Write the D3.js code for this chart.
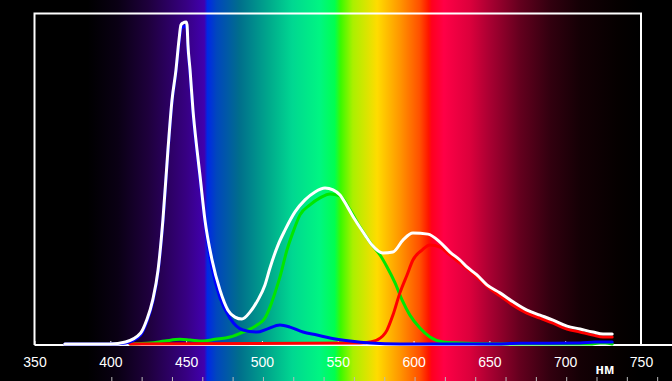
<!DOCTYPE html>
<html><head><meta charset="utf-8">
<script src="https://cdn.jsdelivr.net/npm/d3@7"></script>
<style>html,body{margin:0;padding:0;background:#000;overflow:hidden}</style>
</head><body>
<svg id="c" width="672" height="381"></svg>
<script>
const xTicks = [350, 400, 450, 500, 550, 600, 650, 700, 750];
const unitLabel = "нм";

const whiteWl = [370,400,410,420,424,428,431.5,434.7,438,440.7,443.3,445.3,446.6,447.9,450,450.6,451.2,452.6,454.5,457.2,459.1,462.4,467.1,472.3,477.6,482.2,486.8,492.1,497.4,502,505.3,510.6,515.2,521.8,528.4,535,541.6,546.9,551.5,556.8,561.4,568,572.6,579.8,586.4,593,599.6,609.5,617.4,624,630.6,635.2,641.8,648.4,657,665.6,674.8,683.4,692,701.2,709.8,718.3,725,731];
const whiteVal = [0.3,0.3,0.9,3.6,7.5,13.6,22.6,37.7,58.7,73.8,82.8,91.9,96.4,97.0,97.3,96.4,90.4,82.8,70.8,58.7,51.2,37.7,25.6,16.6,10.5,8.4,7.8,9.9,13.6,18.1,23.2,30.1,34.6,40.1,43.7,46.1,47.3,46.7,45.2,41.3,37.7,33.1,30.1,27.7,28.0,31.6,33.7,33.4,31.0,28.0,25.6,23.5,21.1,18.1,15.7,13.0,10.5,9.0,7.5,5.7,4.8,3.9,3.3,3.3];

const blueWl = [370,400,410,420,424,428,431.5,434.7,438,440.7,443.3,445.3,446.6,447.9,450,450.6,451.2,452.6,454.5,457.2,459.1,462.4,467.1,472.3,478.9,487.5,496.7,503.3,511.9,518.5,527.1,536.3,544.9,558.1,571.3,591,650.4,670.2,709.8,719.7,731];
const blueVal = [0.3,0.3,0.6,3.0,6.9,13.0,22.0,37.0,58.1,73.2,82.2,91.0,95.2,95.8,96.1,95.2,89.5,81.9,69.9,57.8,50.3,36.7,23.2,14.2,8.1,4.5,3.9,4.8,6.0,5.4,3.9,3.0,2.1,1.2,0.6,0.3,0.3,0.5,0.6,0.9,0.9];

const greenWl = [413,426.2,436,446,452.6,461.1,469,478.9,487.5,496.7,502,505.3,508.6,511.9,516.5,520.5,525.1,531.7,538.3,544.9,551.5,558.1,564.7,572.6,577.9,582.5,587.8,592.4,597.6,604.2,610.8,619.4,630.6,657,716.4,723,726.3,731];
const greenVal = [0.3,0.6,1.2,1.7,1.5,1.2,1.7,2.4,3.9,6.0,8.1,11.4,15.7,20.5,28.6,34.0,39.2,42.2,44.3,45.5,44.9,40.7,35.5,30.1,27.1,23.5,18.7,13.6,9.0,5.1,2.4,0.9,0.6,0.3,0.3,0.6,0.6,0.3];

const redWl = [413,564.7,571.3,575.9,582.5,586.4,591,595.7,599.6,605.6,610.8,617.4,624,630.6,637.2,643.8,650.4,657,665.6,674.8,683.4,692,701.2,709.8,718.3,725,731];
const redVal = [0.3,0.6,0.9,1.5,4.5,9.0,15.7,21.1,25.6,28.6,30.1,29.5,27.1,24.7,22.3,19.6,16.9,14.8,12.0,9.6,8.1,6.6,4.8,3.9,3.0,2.4,2.4];

const specWl = [385,405,425,450,462,464,470,485,505,520,538,548,552,560,576,591,604,610,612,620,637,650,670,690,710,735,750];
const specCol = ["#000000","#0a0014","#1e003c","#370082","#4100af","#0028e6","#0046be","#006e8c","#00aa8c","#00d791","#00f582","#00ff50","#3cfa00","#aaf000","#ffdc00","#ff9600","#ff5000","#ff1400","#ff001e","#ff0046","#dc003c","#aa0032","#64001e","#32000f","#140005","#050000","#000000"];

const svg = d3.select("#c");
const W = 672, H = 381;
const x = d3.scaleLinear().domain([350, 750]).range([34.5, 641]);
const y = d3.scaleLinear().domain([0, 100]).range([345, 13]);

// spectrum gradient
const defs = svg.append("defs");
const g = defs.append("linearGradient").attr("id", "spec")
  .attr("gradientUnits", "userSpaceOnUse")
  .attr("x1", x(350)).attr("x2", x(750)).attr("y1", 0).attr("y2", 0);
specWl.forEach((w, i) => g.append("stop")
  .attr("offset", (w - 350) / 400).attr("stop-color", specCol[i]));
svg.append("rect").attr("x", 0).attr("y", 0).attr("width", W).attr("height", H).attr("fill", "#000");
svg.append("rect").attr("x", x(350)).attr("y", 0).attr("width", x(750) - x(350)).attr("height", H).attr("fill", "url(#spec)");

// frame
svg.append("path")
  .attr("d", `M${x(350)},${y(0)}V13.5H${x(750)}V${y(0)}`)
  .attr("fill", "none").attr("stroke", "#fff").attr("stroke-width", 2);
svg.append("line").attr("x1", x(350)).attr("x2", W).attr("y1", 345).attr("y2", 345)
  .attr("stroke", "#fff").attr("stroke-width", 2);

// axis
const ax = svg.append("g").attr("transform", "translate(0,345)")
  .call(d3.axisBottom(x).tickValues(xTicks).tickSize(-4).tickPadding(8).tickFormat(d3.format("d")));
ax.select(".domain").remove();
ax.selectAll("line").attr("stroke", "#fff").attr("stroke-width", 1);
ax.selectAll("text").attr("fill", "#fff").attr("font-family", "'Liberation Sans', Arial, sans-serif")
  .attr("font-size", 14).attr("dy", 0).attr("y", 22);

// minor ruler at bottom
const minor = d3.range(400, 761, 20);
svg.append("g").selectAll("line").data(minor).join("line")
  .attr("x1", d => x(d) + 1.5).attr("x2", d => x(d) + 1.5)
  .attr("y1", 377).attr("y2", 381).attr("stroke", "#bbb").attr("stroke-width", 1);

svg.append("text").attr("x", 605).attr("y", 374).attr("text-anchor", "middle")
  .attr("fill", "#fff").attr("font-family", "'Liberation Sans', Arial, sans-serif")
  .attr("font-weight", "bold").attr("font-size", 14).text(unitLabel);

// curves
const line = d3.line().x(d => x(d[0])).y(d => y(d[1])).curve(d3.curveMonotoneX);
const series = [
  [greenWl, greenVal, "#00e600"],
  [redWl, redVal, "#ff0000"],
  [blueWl, blueVal, "#0000ff"],
  [whiteWl, whiteVal, "#ffffff"]
];
series.forEach(([wl, v, c]) => {
  svg.append("path").datum(wl.map((w, i) => [w, v[i]]))
    .attr("d", line).attr("fill", "none").attr("stroke", c)
    .attr("stroke-width", 3).attr("stroke-linejoin", "round").attr("stroke-linecap", "round");
});
</script>
</body></html>
